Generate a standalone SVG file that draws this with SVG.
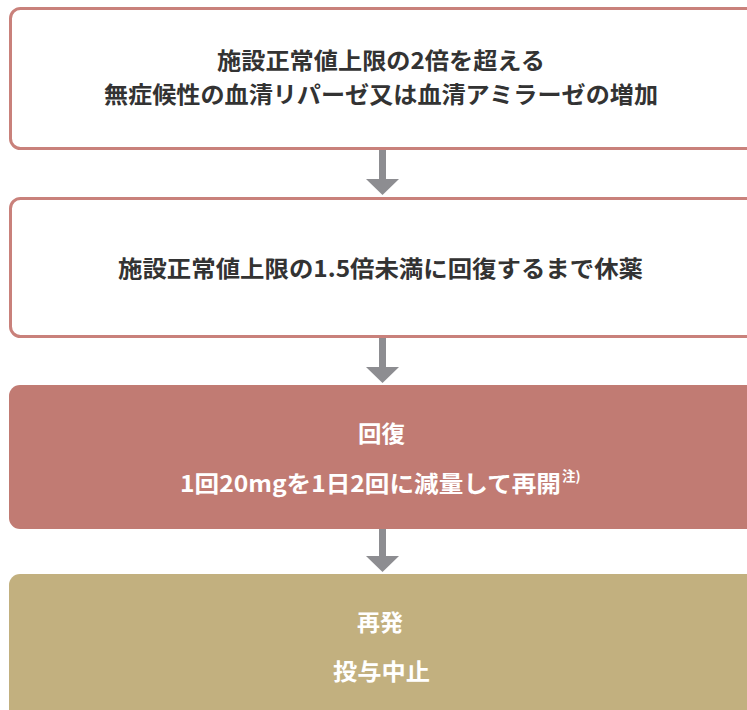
<svg xmlns="http://www.w3.org/2000/svg" width="747" height="710" viewBox="0 0 747 710">
<style>
.outline{fill:#ffffff;stroke:#c9817b;stroke-width:3}
.t{font-family:"Noto Sans CJK JP","Noto Sans",sans-serif;font-size:23px;font-weight:700;text-anchor:middle;fill:#333333}
.w{fill:#ffffff}
.arrow{fill:#8d8d91}
</style>
<g id="connectors">
<path class="arrow" d="M379 150 H386 V179 H399 L382.5 195 L366 179 H379 Z"/>
<path class="arrow" d="M379 338 H386 V367 H399 L382.5 383 L366 367 H379 Z"/>
<path class="arrow" d="M379 529 H386 V556 H399 L382.5 572 L366 556 H379 Z"/>
</g>
<g id="node1">
<rect class="outline" x="10.5" y="8.5" width="760" height="140" rx="10"/>
<text class="t" x="381" y="69" textLength="328" lengthAdjust="spacingAndGlyphs">施設正常値上限の2倍を超える</text>
<text class="t" x="381" y="103" textLength="554" lengthAdjust="spacingAndGlyphs">無症候性の血清リパーゼ又は血清アミラーゼの増加</text>
</g>
<g id="node2">
<rect class="outline" x="10.5" y="198.5" width="760" height="138" rx="10"/>
<text class="t" x="380.5" y="277" textLength="525" lengthAdjust="spacingAndGlyphs">施設正常値上限の1.5倍未満に回復するまで休薬</text>
</g>
<g id="node3">
<rect x="9" y="385" width="760" height="144" rx="11" fill="#c17b73"/>
<text class="t w" x="381.5" y="442" textLength="47" lengthAdjust="spacingAndGlyphs">回復</text>
<text class="t w" x="370.5" y="492" textLength="381" lengthAdjust="spacingAndGlyphs">1回20mgを1日2回に減量して再開</text>
<text x="562" y="481" font-family="'Noto Sans CJK JP','Noto Sans',sans-serif" font-size="13.5" font-weight="700" fill="#ffffff">注)</text>
</g>
<g id="node4">
<rect x="9" y="574" width="760" height="160" rx="11" fill="#c2b07f"/>
<text class="t w" x="380" y="631" textLength="46" lengthAdjust="spacingAndGlyphs">再発</text>
<text class="t w" x="381.5" y="680" textLength="97" lengthAdjust="spacingAndGlyphs">投与中止</text>
</g>
</svg>
